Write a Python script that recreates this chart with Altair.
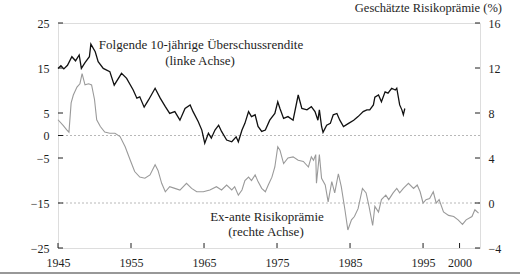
import altair as alt
import pandas as pd

# ---- data ----
black_years = [1945.0, 1945.4, 1945.8, 1946.3, 1946.9, 1947.4, 1947.9, 1948.2, 1948.7, 1949.3,
               1949.5, 1950.1, 1950.5, 1951.2, 1952.1, 1952.7, 1953.7, 1954.4, 1955.3, 1955.8,
               1956.2, 1956.8, 1957.4, 1958.3, 1959.0, 1959.7, 1960.3, 1961.0, 1961.7, 1962.4,
               1963.1, 1963.5, 1964.2, 1964.7, 1965.1, 1965.6, 1966.0, 1966.5, 1967.0, 1967.4,
               1968.1, 1968.8, 1969.4, 1969.7, 1970.2, 1970.6, 1971.1, 1971.5, 1972.0, 1972.4,
               1972.9, 1973.4, 1974.0, 1974.7, 1975.1, 1975.4, 1975.9, 1976.5, 1977.2, 1977.9,
               1978.4, 1979.1, 1979.7, 1980.2, 1980.6, 1980.8, 1981.1, 1981.3, 1981.8, 1982.3,
               1982.7, 1983.2, 1983.6, 1984.1, 1984.8, 1985.5, 1986.1, 1986.8, 1987.3, 1987.7,
               1988.2, 1988.4, 1988.9, 1989.3, 1989.8, 1990.2, 1990.7, 1991.2, 1991.4, 1991.8,
               1992.1, 1992.3, 1992.5]
black_vals = [14.9, 15.5, 14.8, 15.6, 17.5, 16.6, 17.9, 14.9, 16.2, 17.5,
              20.3, 18.6, 16.4, 14.9, 14.2, 11.2, 13.8, 12.7, 10.1, 8.3,
              8.6, 6.3, 7.9, 10.5, 8.3, 6.4, 4.9, 5.3, 3.4, 6.0,
              6.8, 5.3, 3.1, 1.2, -1.7, 0.5, -0.6, 1.2, 2.3, 0.9,
              -1.0, -1.4, -0.3, -1.4, 1.2, 2.7, 5.3, 4.2, 4.6, 2.0,
              0.9, 1.2, 3.4, 4.9, 7.5, 6.0, 3.8, 4.2, 3.4, 9.0,
              6.0, 5.7, 6.4, 5.3, 3.4, 5.7, 2.0, 0.7, 2.3, 2.7,
              4.6, 4.9, 3.4, 2.0, 2.7, 3.4, 4.2, 5.3, 5.7, 5.7,
              6.8, 8.5, 9.0, 7.5, 9.7, 9.4, 10.5, 10.1, 10.5, 6.8,
              5.7, 4.6, 6.0]

gray_years = [1945.0, 1945.7, 1946.2, 1946.5, 1946.8, 1947.1, 1947.6, 1948.0, 1948.3, 1948.7,
              1949.2, 1949.6, 1950.0, 1950.3, 1950.8, 1951.4, 1952.1, 1952.8, 1953.5, 1954.2,
              1954.9, 1955.5, 1956.2, 1956.9, 1957.6, 1958.3, 1958.7, 1959.2, 1959.7, 1960.3,
              1961.0, 1961.7, 1962.6, 1963.3, 1964.0, 1964.9, 1965.8, 1966.7, 1967.4, 1968.1,
              1968.8, 1969.2, 1969.7, 1970.2, 1970.6, 1971.1, 1971.5, 1972.0, 1972.4, 1972.9,
              1973.4, 1973.8, 1974.3, 1974.7, 1975.1, 1975.4, 1975.9, 1976.5, 1977.2, 1977.9,
              1978.6, 1979.3, 1979.7, 1980.0, 1980.3, 1980.4, 1980.8, 1981.1, 1981.6, 1982.0,
              1982.5, 1982.9, 1983.4, 1983.8, 1984.3, 1984.7, 1985.2, 1985.6, 1986.1, 1986.7,
              1987.2, 1987.6, 1988.1, 1988.4, 1988.9, 1989.3, 1989.9, 1990.3, 1990.9, 1991.4,
              1991.8, 1992.3, 1993.0, 1993.7, 1994.2, 1994.6, 1995.0, 1995.4, 1995.9, 1996.4,
              1996.8, 1997.2, 1997.8, 1998.5, 1999.2, 1999.8, 2000.4, 2000.9, 2001.7, 2002.1,
              2002.6]
gray_vals = [7.4, 6.9, 6.5, 6.3, 8.9, 9.6, 10.3, 10.6, 11.5, 10.5,
             10.6, 10.5, 9.2, 7.4, 6.8, 6.3, 6.2, 6.2, 5.9, 5.0,
             3.8, 2.8, 2.3, 2.2, 2.5, 3.4, 2.9, 1.75, 1.0, 1.45,
             1.3, 1.15, 1.75, 1.3, 1.0, 1.0, 1.16, 1.45, 1.16, 1.6,
             1.16, 1.45, 0.7, 1.16, 2.0, 2.3, 2.0, 2.5, 1.9, 1.3,
             1.0, 1.6, 2.3, 3.2, 5.0, 4.7, 3.5, 4.0, 4.1, 3.8,
             3.7, 3.2, 4.1, 3.8, 4.3, 1.75, 4.3, 2.2, 1.6, 0.1,
             1.9, 0.9, 2.6, 1.45, -0.6, -2.4, -1.5, -1.2, -0.5, 1.3,
             0.9, -0.3, -2.0, -0.3, -0.8, 0.3, 0.7, 0.3, 0.9, 1.3,
             0.9, 1.3, 1.75, 1.3, 1.6, 1.0, 0.0, 0.3, 0.4, 1.0,
             0.0, 0.3, -0.8, -1.1, -1.2, -1.5, -1.9, -1.5, -1.2, -0.6,
             -0.9]

x_ticks = [1945, 1955, 1965, 1975, 1985, 1995, 2000]
left_ticks = [25, 15, 5, 0, -5, -15, -25]
right_ticks = [16, 12, 8, 4, 0, -4]
grid_left = [0, -15]

title_text = "Geschätzte Risikoprämie (%)"
black_label = ["Folgende 10-jährige Überschussrendite", "(linke Achse)"]
gray_label = ["Ex-ante Risikoprämie", "(rechte Achse)"]

# ---- chart ----
FONT = "'Liberation Serif', 'Times New Roman', 'DejaVu Serif', serif"
W, H = 422, 225
INK = "#1e1e1e"

xscale = alt.Scale(domain=[1945, 2002.8], nice=False, zero=False)
xaxis = alt.Axis(values=x_ticks, format="d", tickSize=0, domain=False, grid=False,
                 labelPadding=9, title=None, labelFont=FONT, labelFontSize=12,
                 labelColor=INK, labelFlush=False)
lscale = alt.Scale(domain=[-25, 25], nice=False, zero=False)
laxis = alt.Axis(values=left_ticks, orient="left", tickSize=0, domain=False, grid=False,
                 labelPadding=9, title=None, labelFont=FONT, labelFontSize=12,
                 labelColor=INK, labelFlush=False)
rscale = alt.Scale(domain=[-4, 16], nice=False, zero=False)
raxis = alt.Axis(values=right_ticks, orient="right", tickSize=0, domain=False, grid=False,
                 labelPadding=8, title=None, labelFont=FONT, labelFontSize=12,
                 labelColor=INK, labelFlush=False)

X = alt.X("year:Q", scale=xscale, axis=xaxis)

black_df = pd.DataFrame({"year": black_years, "v": black_vals})
gray_df = pd.DataFrame({"year": gray_years, "v": gray_vals})

black_line = alt.Chart(black_df).mark_line(color="#111111", strokeWidth=1.3).encode(
    x=X, y=alt.Y("v:Q", scale=lscale, axis=laxis))

grid = alt.Chart(pd.DataFrame({"v": grid_left})).mark_rule(
    color="#b8b8b8", strokeDash=[2, 2], strokeWidth=1).encode(
    y=alt.Y("v:Q", scale=lscale, axis=laxis))

left_tick_marks = alt.Chart(pd.DataFrame({"v": left_ticks})).mark_rule(color=INK).encode(
    y=alt.Y("v:Q", scale=lscale, axis=laxis), x=alt.value(0), x2=alt.value(5))

bottom_ticks = alt.Chart(pd.DataFrame({"year": x_ticks})).mark_rule(color=INK).encode(
    x=X, y=alt.value(H), y2=alt.value(H - 5))

gray_line = alt.Chart(gray_df).mark_line(color="#9a9a9a", strokeWidth=1.1).encode(
    x=X, y=alt.Y("v:Q", scale=rscale, axis=raxis))

right_tick_marks = alt.Chart(pd.DataFrame({"v": right_ticks})).mark_rule(color=INK).encode(
    y=alt.Y("v:Q", scale=rscale, axis=raxis), x=alt.value(W - 5), x2=alt.value(W))

def label(text, x, y, align="center", size=13):
    return alt.Chart(pd.DataFrame({"t": [text]})).mark_text(
        font=FONT, fontSize=size, color=INK, align=align, baseline="middle").encode(
        text="t:N", x=alt.value(x), y=alt.value(y))

texts = [
    label(title_text, 444, -15, align="right", size=12.5),
    label(black_label[0], 143, 22),
    label(black_label[1], 142, 38),
    label(gray_label[0], 209, 194),
    label(gray_label[1], 208, 209),
]

bottom_line = alt.Chart(pd.DataFrame({"a": [0]})).mark_rule(color="#333", strokeWidth=1.2).encode(
    x=alt.value(-58), x2=alt.value(462), y=alt.value(250))

left_group = alt.layer(grid, black_line, left_tick_marks, bottom_ticks, bottom_line, *texts)
right_group = alt.layer(gray_line, right_tick_marks)

chart = alt.layer(left_group, right_group).resolve_scale(y="independent").properties(
    width=W, height=H, autosize="none",
    padding={"left": 58, "top": 23, "right": 48, "bottom": 32},
    background="white",
).configure_view(stroke=INK, strokeWidth=1).configure(font=FONT)

chart.save("out.html", embed_options={"renderer": "svg", "actions": False})
